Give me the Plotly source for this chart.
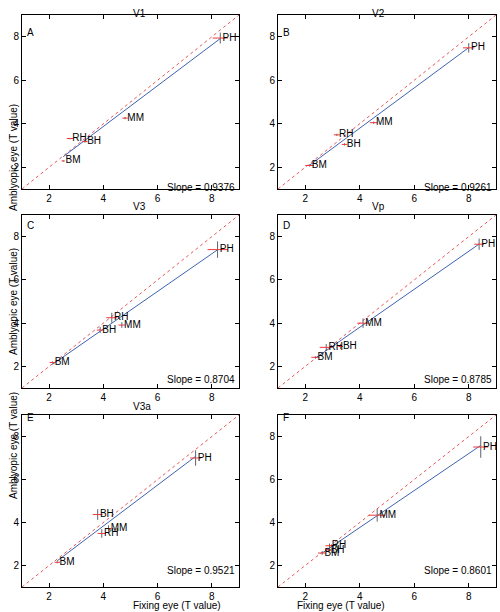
import plotly.graph_objects as go
import numpy as np

W, H = 500, 612
FONT = "Liberation Sans, Arial, sans-serif"
FS = 10

panel_titles = ["V1", "V2", "V3", "Vp", "V3a", ""]
panel_letters = ["A", "B", "C", "D", "E", "F"]
slopes = [0.9376, 0.9261, 0.8704, 0.8785, 0.9521, 0.8601]
subjects = ["PH", "MM", "RH", "BH", "BM"]

# Fixing eye (x), amblyopic eye (y), per panel, subjects order above
fix_A = [8.31, 4.80, 2.77, 3.32, 2.52]
amb_A = [7.94, 4.26, 3.32, 3.18, 2.29]
fix_B = [8.00, 4.51, 3.16, 3.44, 2.16]
amb_B = [7.49, 4.05, 3.49, 3.05, 2.08]
fix_C = [8.21, 4.68, 4.31, 3.88, 2.12]
amb_C = [7.40, 3.91, 4.25, 3.68, 2.18]
fix_D = [8.38, 4.12, 2.77, 3.30, 2.37]
amb_D = [7.65, 4.00, 2.88, 2.92, 2.42]
fix_E = [7.40, 4.19, 3.94, 3.79, 2.30]
amb_E = [7.00, 3.72, 3.49, 4.37, 2.15]
fix_F = [8.44, 4.64, 2.89, 2.85, 2.62]
amb_F = [7.51, 4.34, 2.92, 2.72, 2.58]

# error half-widths (x: fixing eye, y: amblyopic eye)
xerr_A = [0.28, 0.10, 0.12, 0.10, 0.06]
yerr_A = [0.25, 0.05, 0.03, 0.05, 0.03]
xerr_B = [0.21, 0.14, 0.11, 0.10, 0.16]
yerr_B = [0.22, 0.05, 0.05, 0.05, 0.05]
xerr_C = [0.37, 0.12, 0.20, 0.12, 0.10]
yerr_C = [0.38, 0.13, 0.23, 0.14, 0.05]
xerr_D = [0.18, 0.21, 0.24, 0.08, 0.15]
yerr_D = [0.26, 0.22, 0.15, 0.12, 0.05]
xerr_E = [0.20, 0.10, 0.15, 0.18, 0.10]
yerr_E = [0.36, 0.15, 0.20, 0.25, 0.05]
xerr_F = [0.28, 0.30, 0.15, 0.10, 0.15]
yerr_F = [0.50, 0.30, 0.10, 0.10, 0.08]

fix = [fix_A, fix_B, fix_C, fix_D, fix_E, fix_F]
amb = [amb_A, amb_B, amb_C, amb_D, amb_E, amb_F]
xerr = [xerr_A, xerr_B, xerr_C, xerr_D, xerr_E, xerr_F]
yerr = [yerr_A, yerr_B, yerr_C, yerr_D, yerr_E, yerr_F]

ticks = [2, 4, 6, 8]
axis_range = [1, 9]

# panel boxes in pixels (left, right, top, bottom)
cols = [(22, 239), (278, 496)]
rows = [(15, 189), (215, 388), (415, 587)]

fig = go.Figure()
annotations = []

for i in range(6):
    r, c = divmod(i, 2)
    xl, xr = cols[c]
    yt, yb = rows[r]
    n = i + 1
    xa = "x" if n == 1 else f"x{n}"
    ya = "y" if n == 1 else f"y{n}"
    xkey = "xaxis" if n == 1 else f"xaxis{n}"
    ykey = "yaxis" if n == 1 else f"yaxis{n}"

    xs = np.array(fix[i]); ys = np.array(amb[i])
    # identity line
    fig.add_trace(go.Scatter(x=axis_range, y=axis_range, mode="lines",
                             line=dict(color="#e8585a", width=1, dash="dot"),
                             xaxis=xa, yaxis=ya, showlegend=False, hoverinfo="skip"))
    # regression line with stated slope through data mean
    mx, my = xs.mean(), ys.mean()
    lx = np.array([xs.min(), xs.max()])
    ly = my + slopes[i] * (lx - mx)
    fig.add_trace(go.Scatter(x=lx, y=ly, mode="lines",
                             line=dict(color="#3f63b0", width=1),
                             xaxis=xa, yaxis=ya, showlegend=False, hoverinfo="skip"))
    # data with error bars
    fig.add_trace(go.Scatter(x=xs, y=ys, mode="markers+text", text=subjects,
                             textposition="middle right",
                             textfont=dict(family=FONT, size=FS, color="black"),
                             marker=dict(size=2, color="rgba(0,0,0,0)"),
                             error_x=dict(type="data", array=xerr[i], color="#f03838",
                                          thickness=1, width=0),
                             error_y=dict(type="data", array=yerr[i], color="#5a6478",
                                          thickness=1, width=0),
                             cliponaxis=False,
                             xaxis=xa, yaxis=ya, showlegend=False, hoverinfo="skip"))

    ax_common = dict(range=axis_range, tickvals=ticks, ticks="inside", ticklen=4,
                     tickcolor="black", showline=True, linecolor="black", linewidth=1,
                     mirror="ticks", showgrid=False, zeroline=False, automargin=False,
                     tickfont=dict(family=FONT, size=FS, color="black"))
    fig.layout[xkey] = dict(ax_common, domain=[xl / W, xr / W], anchor=ya)
    fig.layout[ykey] = dict(ax_common, domain=[1 - yb / H, 1 - yt / H], anchor=xa)

    if panel_titles[i]:
        annotations.append(dict(text=panel_titles[i], x=(xl + xr) / 2 / W, y=1 - (yt - 9) / H,
                                xref="paper", yref="paper", showarrow=False,
                                font=dict(family=FONT, size=FS, color="black")))
    annotations.append(dict(text=panel_letters[i], x=(xl + 3) / W, y=1 - (yt + 10) / H,
                            xref="paper", yref="paper", showarrow=False, xanchor="left",
                            font=dict(family=FONT, size=FS, color="black")))
    annotations.append(dict(text=f"Slope = {slopes[i]:.4f}", x=(xr - 2) / W, y=1 - (yb - 9) / H,
                            xref="paper", yref="paper", showarrow=False, xanchor="right",
                            font=dict(family=FONT, size=FS, color="black")))
    if c == 0:
        annotations.append(dict(text="Amblyopic eye (T value)", x=6 / W, y=1 - (yt + yb) / 2 / H,
                                xref="paper", yref="paper", showarrow=False, textangle=-90,
                                font=dict(family=FONT, size=FS, color="black")))
    if r == 2:
        annotations.append(dict(text="Fixing eye (T value)", x=(xl + xr) / 2 / W, y=0,
                                xref="paper", yref="paper", showarrow=False, yanchor="bottom",
                                yshift=-1,
                                font=dict(family=FONT, size=FS, color="black")))

fig.update_layout(template="none", width=W, height=H, autosize=False,
                  margin=dict(l=0, r=0, t=0, b=0, pad=0),
                  paper_bgcolor="white", plot_bgcolor="white",
                  annotations=annotations, showlegend=False)

fig.write_html("out.html", config={"displayModeBar": False, "responsive": False},
               post_script="document.body.style.margin='0';document.body.style.overflow='hidden';")
